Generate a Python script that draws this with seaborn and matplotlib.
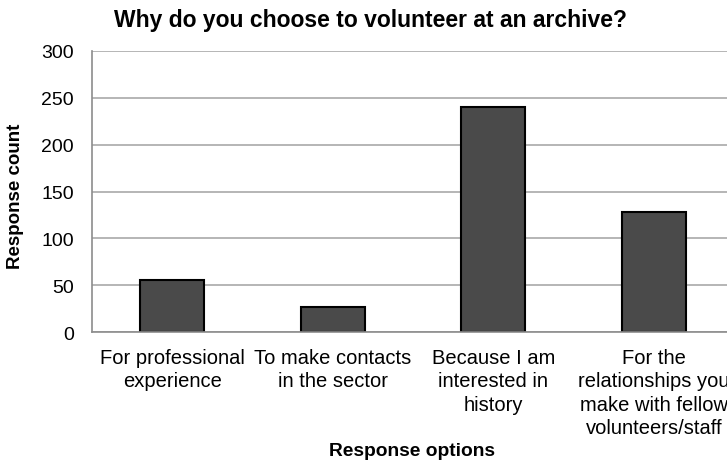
import matplotlib
matplotlib.use("Agg")
import matplotlib.pyplot as plt
import seaborn as sns
import pandas as pd

# Survey answers and response counts
categories = [
    "For professional\nexperience",
    "To make contacts\nin the sector",
    "Because I am\ninterested in\nhistory",
    "For the\nrelationships you\nmake with fellow\nvolunteers/staff",
]
counts = [56, 27, 240, 128]
y_ticks = [0, 50, 100, 150, 200, 250, 300]

sns.set_theme(style="white")
plt.rcParams["font.family"] = ["Liberation Sans", "DejaVu Sans"]
plt.rcParams["text.color"] = "black"

W, H = 727, 464
fig = plt.figure(figsize=(W / 100, H / 100), dpi=100)
ax = fig.add_axes([92 / W, (H - 333.3) / H, 642 / W, 281.6 / H])

df = pd.DataFrame({"option": categories, "count": counts})
sns.barplot(data=df, x="option", y="count", color="#4a4a4a", saturation=1,
            edgecolor="black", linewidth=1.5, width=0.4, ax=ax)

grey = "#8c8c8c"
ax.set_xlim(-0.5, len(categories) - 0.5)
ax.set_ylim(0, 300)
ax.set_yticks(y_ticks)
ax.yaxis.grid(True, color="#a9a9a9", linewidth=1.2)
ax.set_axisbelow(True)

for side in ("top", "right"):
    ax.spines[side].set_visible(False)
for side in ("left", "bottom"):
    ax.spines[side].set_color(grey)
    ax.spines[side].set_linewidth(1.2)

ax.tick_params(axis="y", length=6, width=1.2, color=grey, pad=7,
               labelsize=14, labelcolor="black")
ax.set_xticks(range(len(categories)))
ax.set_xticklabels(categories, fontsize=14.5, linespacing=1.3)
ax.tick_params(axis="x", which="major", length=0, pad=11, labelcolor="black")
ax.set_xticks([i - 0.5 for i in range(len(categories) + 1)], minor=True)
ax.tick_params(axis="x", which="minor", length=6, width=1.2, color=grey)
ax.set_xlabel("")
ax.set_ylabel("")

fig.text(370.5 / W, 1 - 21 / H, "Why do you choose to volunteer at an archive?",
         ha="center", va="center", fontsize=16.5, fontweight="bold", color="black")
fig.text(16 / W, 1 - 196 / H, "Response count", rotation=90,
         ha="center", va="center", fontsize=13.5, fontweight="bold", color="black")
fig.text(412 / W, 1 - 452 / H, "Response options",
         ha="center", va="center", fontsize=13.8, fontweight="bold", color="black")

fig.savefig("out.png", dpi=100)
